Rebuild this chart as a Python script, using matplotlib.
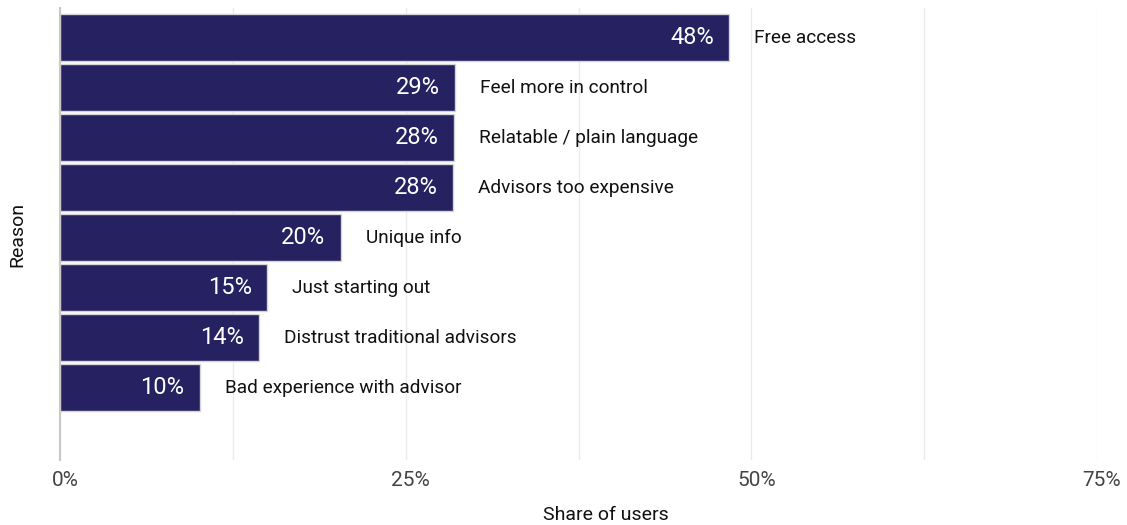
import matplotlib
matplotlib.use("Agg")
import matplotlib.pyplot as plt
from matplotlib.ticker import FixedLocator
import matplotlib.transforms as mtransforms

plt.rcParams['font.family'] = ['Roboto', 'DejaVu Sans']

reasons = [
    "Free access",
    "Feel more in control",
    "Relatable / plain language",
    "Advisors too expensive",
    "Unique info",
    "Just starting out",
    "Distrust traditional advisors",
    "Bad experience with advisor",
]
share = [48.4, 28.6, 28.5, 28.4, 20.3, 15.0, 14.4, 10.1]
x_ticks = [0, 25, 50, 75]
x_tick_labels = ["0%", "25%", "50%", "75%"]

W, H = 1127, 525
fig = plt.figure(figsize=(W / 100, H / 100), dpi=100)
ax = fig.add_axes([60 / W, 1 - 460 / H, (1097 - 60) / W, (460 - 8) / H])

bar_color = "#262161"
pos = list(range(len(reasons)))
ax.barh(pos, share, height=0.93, color=bar_color, edgecolor="#d4d4d4",
        linewidth=1.0, zorder=3)

for y, v, name in zip(pos, share, reasons):
    ax.text(v - 1.1, y, f"{v:.0f}%", color="white", fontsize=17,
            ha="right", va="center", zorder=4)
    ax.text(v + 1.8, y, name, color="#111111", fontsize=13.7,
            ha="left", va="center", zorder=4)

ax.set_xlim(0, 75)
ax.set_ylim(len(reasons) - 1 + 1.45, -0.59)

ax.xaxis.set_major_locator(FixedLocator(x_ticks))
ax.set_xticklabels(x_tick_labels)
ax.xaxis.set_minor_locator(FixedLocator([12.5, 37.5, 62.5]))
ax.grid(axis="x", which="both", color="#ebebeb", linewidth=1.0, zorder=0)
ax.tick_params(axis="x", which="both", length=0, pad=8, labelsize=15,
               labelcolor="#444444")
shift = mtransforms.ScaledTranslation(5 / 100, 0, fig.dpi_scale_trans)
for lbl in ax.get_xticklabels():
    lbl.set_transform(lbl.get_transform() + shift)
ax.set_yticks([])

for s in ["top", "right", "bottom"]:
    ax.spines[s].set_visible(False)
ax.spines["left"].set_color("#c8c8c8")
ax.spines["left"].set_linewidth(1.5)
ax.spines["left"].set_zorder(5)

ax.set_xlabel("Share of users", fontsize=14, color="#111111")
ax.xaxis.set_label_coords(0.5265, -0.102)
ax.set_ylabel("Reason", fontsize=14, color="#111111", labelpad=24)

fig.savefig("out.png", dpi=100)
